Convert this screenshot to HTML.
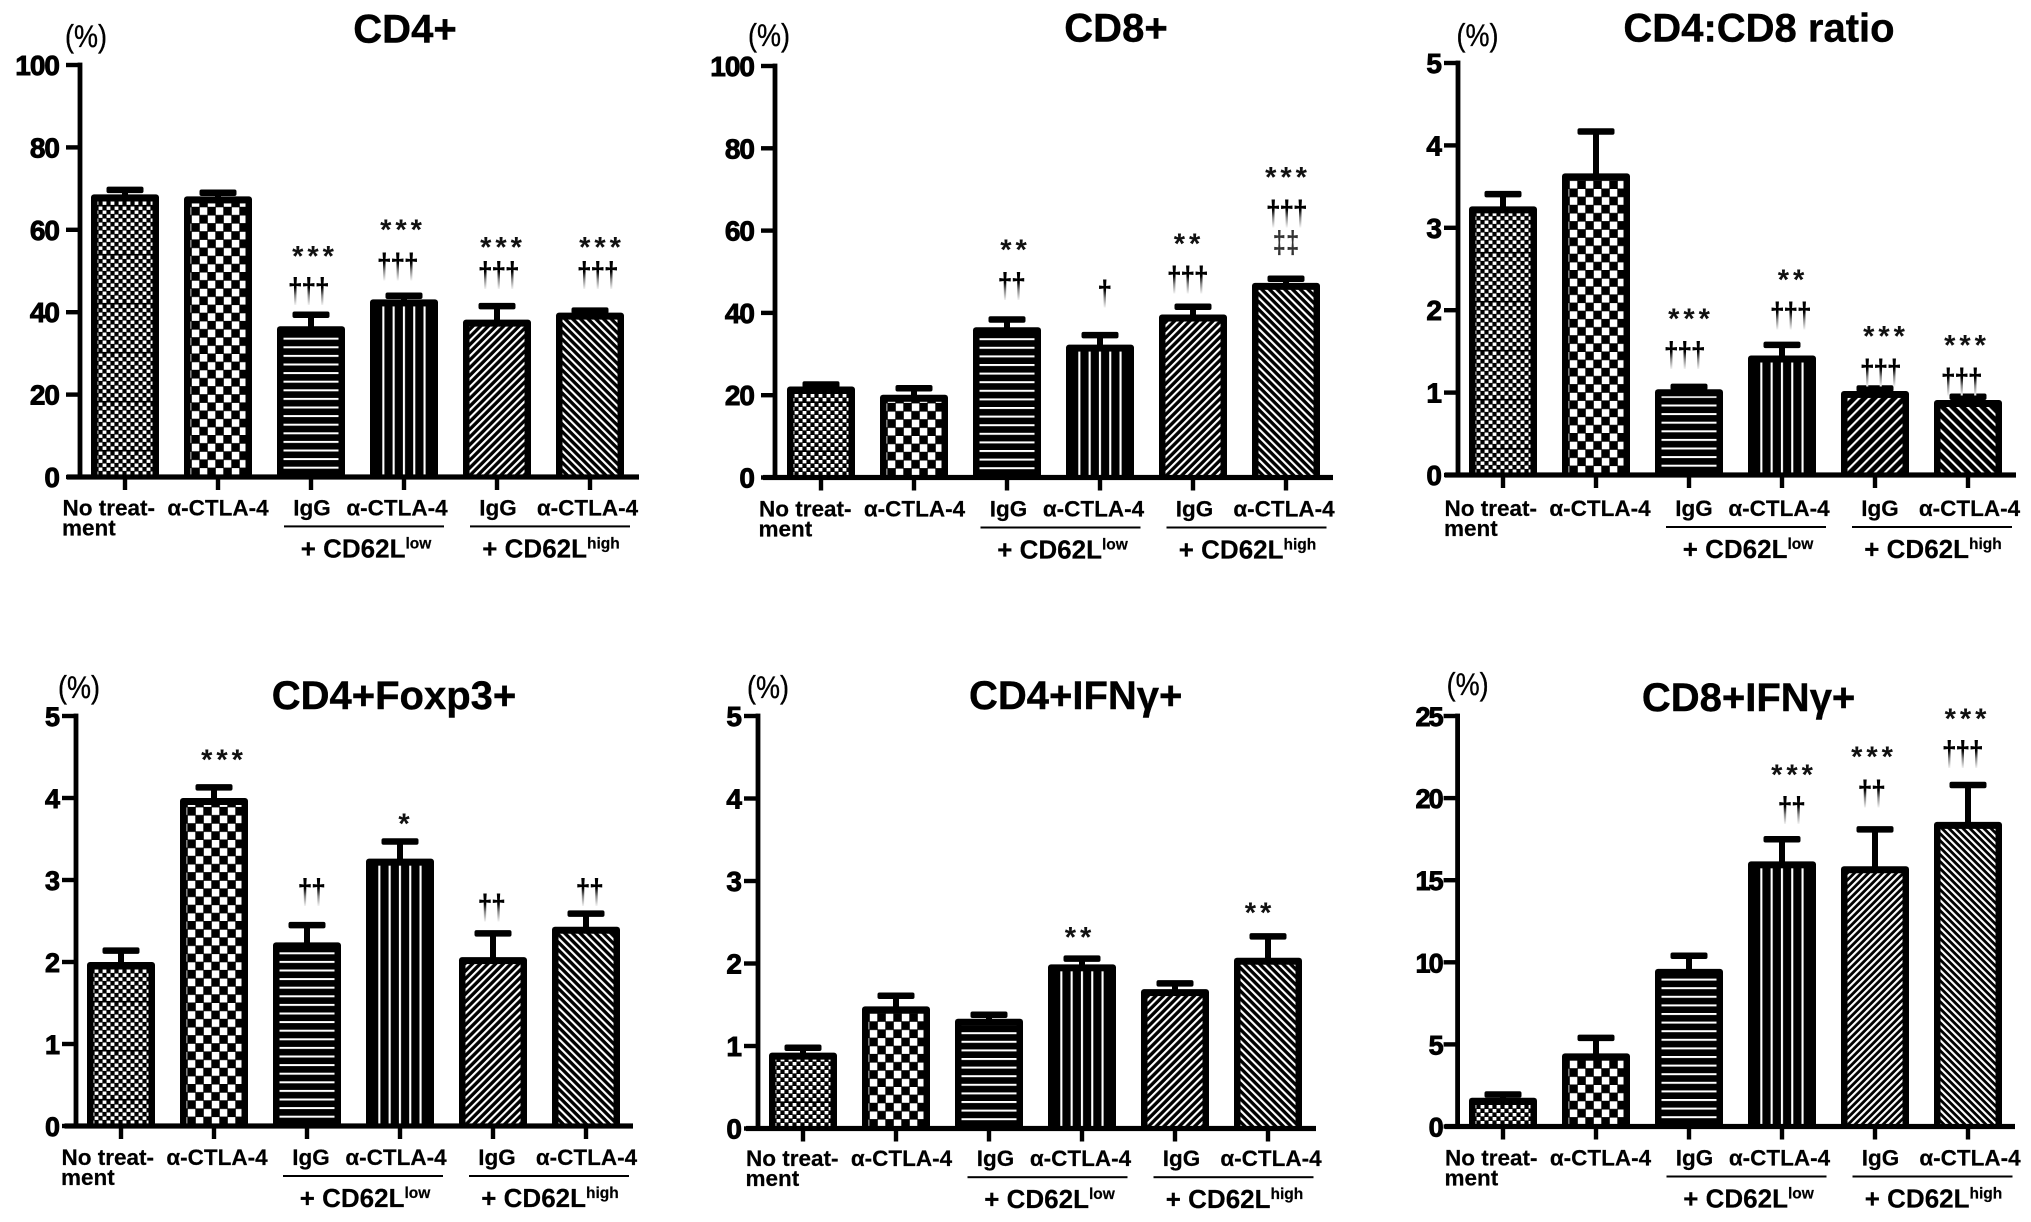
<!DOCTYPE html>
<html lang="en">
<head>
<meta charset="utf-8">
<title>T cell subset bar charts</title>
<style>
html,body{margin:0;padding:0;background:#fff;}
svg{display:block;font-family:"Liberation Sans",Arial,sans-serif;}
</style>
</head>
<body>
<svg id="figure" xmlns="http://www.w3.org/2000/svg" width="2031" height="1222" viewBox="0 0 2031 1222">
  <defs id="defs">
    <linearGradient id="fade" x1="0" y1="0" x2="0" y2="1">
      <stop offset="0" stop-color="#000"/>
      <stop offset="0.42" stop-color="#000"/>
      <stop offset="0.62" stop-color="#888"/>
      <stop offset="0.85" stop-color="#eee"/>
      <stop offset="1" stop-color="#fff"/>
    </linearGradient>
  </defs>
  <rect x="0" y="0" width="2031" height="1222" fill="#fff"/>
</svg>
<script>
// ---- shared category labels ----
const groupTop = ['No treat-', 'α-CTLA-4', 'IgG', 'α-CTLA-4', 'IgG', 'α-CTLA-4'];
const groupTopLine2 = 'ment';
const groupSub = [['+ CD62L', 'low'], ['+ CD62L', 'high']];
const barKinds = ['fine', 'coarse', 'hstripe', 'vstripe', 'fslash', 'bslash'];

// ---- CD4+ ----
const cd4Ticks = [0, 20, 40, 60, 80, 100];
const cd4Values = [68.6, 68.1, 36.6, 43.1, 38.2, 39.9];
const cd4Upper = [69.7, 69.0, 39.4, 44.0, 41.5, 40.4];
const cd4Stars = ['', '', '***', '***', '***', '***'];
const cd4StarLevels = [null, null, 54.3, 60.7, 56.4, 56.4];
const cd4Daggers = ['', '', '†††', '†††', '†††', '†††'];
const cd4DaggerLevels = [null, null, 46.4, 52.4, 50.3, 50.3];

// ---- CD8+ ----
const cd8Ticks = [0, 20, 40, 60, 80, 100];
const cd8Values = [22.1, 20.1, 36.5, 32.3, 39.6, 47.3];
const cd8Upper = [22.6, 21.7, 38.4, 34.6, 41.5, 48.3];
const cd8Stars = ['', '', '**', '', '**', '***'];
const cd8StarLevels = [null, null, 56, null, 57.5, 73.6];
const cd8Daggers = ['', '', '††', '†', '†††', '†††'];
const cd8DaggerLevels = [null, null, 47.8, 46, 49.4, 65.5];
const cd8DoubleDaggers = ['', '', '', '', '', '‡‡'];
const cd8DoubleDaggerLevels = [null, null, null, null, null, 57.5];

// ---- CD4:CD8 ratio ----
const ratioTicks = [0, 1, 2, 3, 4, 5];
const ratioValues = [3.26, 3.66, 1.04, 1.45, 1.02, 0.91];
const ratioUpper = [3.41, 4.17, 1.07, 1.58, 1.05, 0.95];
const ratioStars = ['', '', '***', '**', '***', '***'];
const ratioStarLevels = [null, null, 1.93, 2.4, 1.72, 1.61];
const ratioDaggers = ['', '', '†††', '†††', '†††', '†††'];
const ratioDaggerLevels = [null, null, 1.52, 2.0, 1.31, 1.2];

// ---- CD4+Foxp3+ ----
const foxp3Ticks = [0, 1, 2, 3, 4, 5];
const foxp3Values = [2.0, 4.0, 2.24, 3.26, 2.06, 2.43];
const foxp3Upper = [2.14, 4.13, 2.45, 3.47, 2.35, 2.59];
const foxp3Stars = ['', '***', '', '*', '', ''];
const foxp3StarLevels = [null, 4.5, null, 3.72, null, null];
const foxp3Daggers = ['', '', '††', '', '††', '††'];
const foxp3DaggerLevels = [null, null, 2.92, null, 2.73, 2.92];

// ---- CD4+IFNγ+ ----
const ifn4Ticks = [0, 1, 2, 3, 4, 5];
const ifn4Values = [0.92, 1.48, 1.33, 1.99, 1.69, 2.07];
const ifn4Upper = [0.98, 1.61, 1.38, 2.06, 1.76, 2.33];
const ifn4Stars = ['', '', '', '**', '', '**'];
const ifn4StarLevels = [null, null, null, 2.35, null, 2.65];

// ---- CD8+IFNγ+ ----
const ifn8Ticks = [0, 5, 10, 15, 20, 25];
const ifn8Values = [1.75, 4.45, 9.6, 16.15, 15.85, 18.55];
const ifn8Upper = [1.95, 5.4, 10.4, 17.5, 18.1, 20.8];
const ifn8Stars = ['', '', '', '***', '***', '***'];
const ifn8StarLevels = [null, null, null, 21.6, 22.7, 25];
const ifn8Daggers = ['', '', '', '††', '††', '†††'];
const ifn8DaggerLevels = [null, null, null, 19.6, 20.6, 23];

const NS = 'http://www.w3.org/2000/svg';
const figure = document.getElementById('figure');
const defs = document.getElementById('defs');
let patternCount = 0;

function make(tag, attrs, parent) {
  const node = document.createElementNS(NS, tag);
  Object.keys(attrs).forEach(function (k) { node.setAttribute(k, attrs[k]); });
  parent.appendChild(node);
  return node;
}

function makePattern(kind, barLeft, base, diag) {
  const id = 'pat' + (patternCount++);
  let w = 10, h = 10, transform = '';
  if (kind === 'fine') { w = 8; h = 49; transform = 'translate(' + (barLeft + 7.5) + ',' + (base - 26) + ')'; }
  if (kind === 'coarse') { w = 16; h = 16.3; transform = 'translate(' + (barLeft + 7.5) + ',' + (base - 1) + ')'; }
  if (kind === 'hstripe') { w = 10; h = 8.6; transform = 'translate(' + barLeft + ',' + (base - 10.3) + ')'; }
  if (kind === 'vstripe') { w = 10.3; h = 10; transform = 'translate(' + (barLeft + 12.3) + ',0)'; }
  if (kind === 'fslash') { w = diag * 0.7071; h = 20; transform = 'translate(' + barLeft + ',' + base + ') rotate(45)'; }
  if (kind === 'bslash') { w = diag * 0.7071; h = 20; transform = 'translate(' + barLeft + ',' + base + ') rotate(-45)'; }
  const p = make('pattern', { id: id, patternUnits: 'userSpaceOnUse', width: w, height: h, patternTransform: transform }, defs);
  make('rect', { x: 0, y: 0, width: w, height: h, fill: '#000' }, p);
  if (kind === 'fine') {
    for (let r = 0; r < 12; r++) {
      for (let c = 0; c < 2; c++) {
        if (c === r % 2) make('rect', { x: c * 4 + 0.1, y: r * 4 + 0.5, width: 3.8, height: 3.4, fill: '#fff' }, p);
      }
    }
  }
  if (kind === 'coarse') {
    make('rect', { x: 0.3, y: 0.3, width: 7.5, height: 7.6, fill: '#fff' }, p);
    make('rect', { x: 8.3, y: 8.4, width: 7.5, height: 7.6, fill: '#fff' }, p);
  }
  if (kind === 'hstripe') make('rect', { x: 0, y: 0, width: w, height: 2, fill: '#fff' }, p);
  if (kind === 'vstripe') make('rect', { x: 0, y: 0, width: 2.1, height: h, fill: '#fff' }, p);
  if (kind === 'fslash' || kind === 'bslash') make('rect', { x: 0, y: 0, width: 2.1, height: h, fill: '#fff' }, p);
  return 'url(#' + id + ')';
}

function drawPanel(name, title, titleAt, percentAt, layout, ticks, values, upper, marks) {
  const g = make('g', {}, figure);
  
  

  const yScale = function (v) {
    return layout.y0 - v / ticks[ticks.length - 1] * (layout.y0 - layout.yTop);
  };
  const xScale = function (i) {
    return layout.tick0 + i * layout.step;
  };

  // title and unit
  const titleEl = make('text', { x: titleAt[0], y: titleAt[1], 'text-anchor': 'middle', 'font-size': 40, 'font-weight': 'bold', stroke: '#000', 'stroke-width': 0.4, fill: '#000' }, g);
  
  
  titleEl.textContent = title;

  const unitEl = make('text', { transform: 'translate(' + percentAt[0] + ',' + percentAt[1] + ') scale(1,1.15)', 'text-anchor': 'middle', 'font-size': 27, stroke: '#000', 'stroke-width': 0.3, fill: '#000' }, g);
  
  
  unitEl.textContent = '(%)';

  // y axis line
  const yAxis = make('rect', { x: layout.axisX - 2.4, y: layout.yTop - 2.4, width: 4.8, height: layout.y0 - layout.yTop + 4.8, fill: '#000' }, g);
  
  

  // y ticks and labels
  ticks.forEach(function (t) {
    const tickMark = make('rect', { x: layout.axisX - 14, y: yScale(t) - 2.2, width: 14, height: 4.4, fill: '#000' }, g);
    
    
    const label = make('text', { x: layout.axisX - layout.tickGap, y: yScale(t) + 10, 'text-anchor': 'end', 'font-size': layout.tickSize, 'font-weight': 'bold', 'letter-spacing': layout.tickSpacing, stroke: '#000', 'stroke-width': 0.9, fill: '#000' }, g);
    
    
    label.textContent = String(t);
  });

  // bars, error bars
  values.forEach(function (v, i) {
    const left = xScale(i) - 34;
    const kind = barKinds[i];

    const stem = make('rect', { x: xScale(i) - 3, y: yScale(upper[i]), width: 6, height: Math.max(0, yScale(v) - yScale(upper[i])) + 2, fill: '#000' }, g);
    
    

    const cap = make('rect', { x: xScale(i) - 18.5, y: yScale(upper[i]) - 3.2, width: 37, height: 6.5, rx: 2, fill: '#000' }, g);
    
    

    const bar = make('rect', { x: left, y: yScale(v), width: 68, height: layout.y0 - yScale(v), rx: 3, fill: '#000' }, g);
    
    

    const innerTop = yScale(v) + 7;
    const inner = make('rect', { x: left + 6.5, y: innerTop, width: 55, height: Math.max(0, layout.y0 - innerTop), fill: makePattern(kind, left, layout.y0, layout.diag) }, g);
    
    
  });

  // x axis line and ticks
  const xAxis = make('rect', { x: layout.xStart, y: layout.y0 - 2.6, width: layout.xEnd - layout.xStart, height: 5.2, fill: '#000' }, g);
  
  

  values.forEach(function (v, i) {
    const xt = make('rect', { x: xScale(i) - 2.2, y: layout.y0, width: 4.4, height: 13, fill: '#000' }, g);
    
    
  });

  // x labels
  const s = layout.shift;
  const dy = layout.labelDy;
  const labelOffsets = [null, 95, 189, 274, 375, 464.5];
  groupTop.forEach(function (txt, i) {
    const attrs = i === 0
      ? { x: layout.tick0 - 60.5 + s, y: layout.y0 + 40 + dy, 'text-anchor': 'start', 'font-size': 22.5, 'font-weight': 'bold', stroke: '#000', 'stroke-width': 0.2, fill: '#000' }
      : { x: layout.tick0 + labelOffsets[i] + s, y: layout.y0 + 40 + dy, 'text-anchor': 'middle', 'font-size': 22.5, 'font-weight': 'bold', stroke: '#000', 'stroke-width': 0.2, fill: '#000' };
    const lab = make('text', attrs, g);
    
    
    lab.textContent = txt;
  });
  const line2 = make('text', { x: layout.tick0 - 61 + s, y: layout.y0 + 60 + dy, 'font-size': 22.5, 'font-weight': 'bold', stroke: '#000', 'stroke-width': 0.2, fill: '#000' }, g);
  
  
  line2.textContent = groupTopLine2;

  // group rules and group labels
  const ruleStarts = [161, 347];
  const subCenters = [243, 428];
  groupSub.forEach(function (sub, k) {
    const rule = make('rect', { x: layout.tick0 + ruleStarts[k] + s, y: layout.y0 + 50 + dy, width: 160, height: 2, fill: '#000' }, g);
    
    

    const subText = make('text', { x: layout.tick0 + subCenters[k] + s, y: layout.y0 + 82 + dy, 'text-anchor': 'middle', 'font-size': 26, 'font-weight': 'bold', stroke: '#000', 'stroke-width': 0.2, fill: '#000' }, g);
    
    
    subText.appendChild(document.createTextNode(sub[0]));
    const sup = make('tspan', { dy: -9, 'font-size': 15.5 }, subText);
    sup.textContent = sub[1];
  });

  // significance marks
  marks.stars.forEach(function (txt, i) {
    if (!txt) return;
    const star = make('text', { x: xScale(i) + marks.starNudge[i] + 2, y: yScale(marks.starLevels[i]) + 12.5, 'text-anchor': 'middle', 'font-size': 29, 'font-weight': 'bold', 'letter-spacing': 4, fill: '#111' }, g);
    
    
    star.textContent = txt;
  });
  (marks.daggers || []).forEach(function (txt, i) {
    if (!txt) return;
    const dag = make('text', { transform: 'translate(' + (xScale(i) + marks.daggerNudge[i]) + ',' + (yScale(marks.daggerLevels[i]) + 16.8) + ') scale(1,1.3)', 'text-anchor': 'middle', 'font-size': 27, 'font-weight': 'bold', 'letter-spacing': -1.5, fill: 'url(#fade)' }, g);
    
    
    dag.textContent = txt;
  });
  (marks.doubles || []).forEach(function (txt, i) {
    if (!txt) return;
    const dbl = make('text', { transform: 'translate(' + (xScale(i) + marks.daggerNudge[i]) + ',' + (yScale(marks.doubleLevels[i]) + 12) + ') scale(1,1.3)', 'text-anchor': 'middle', 'font-size': 24, 'font-weight': 'bold', fill: '#333' }, g);
    
    
    dbl.textContent = txt;
  });
}

drawPanel('cd4', 'CD4+', [405, 42.5], [86, 47],
  { axisX: 80, y0: 477, yTop: 65, xStart: 67, xEnd: 639, tick0: 125, step: 93, shift: -2, labelDy: -1.6, tickGap: 21, tickSize: 28, tickSpacing: -1, diag: 7.7 },
  cd4Ticks, cd4Values, cd4Upper,
  { stars: cd4Stars, starLevels: cd4StarLevels, starNudge: [0, 0, 2, -3, 4, 10],
    daggers: cd4Daggers, daggerLevels: cd4DaggerLevels, daggerNudge: [0, 0, -3, -7, 1, 7] });

drawPanel('cd8', 'CD8+', [1116, 41.5], [769, 46],
  { axisX: 775, y0: 477.5, yTop: 66, xStart: 763, xEnd: 1333, tick0: 821, step: 93, shift: -1.5, labelDy: -1, tickGap: 21, tickSize: 28, tickSpacing: -1, diag: 7.7 },
  cd8Ticks, cd8Values, cd8Upper,
  { stars: cd8Stars, starLevels: cd8StarLevels, starNudge: [0, 0, 6.5, 0, -6, 0],
    daggers: cd8Daggers, daggerLevels: cd8DaggerLevels, daggerNudge: [0, 0, 4, 4, -6, 0],
    doubles: cd8DoubleDaggers, doubleLevels: cd8DoubleDaggerLevels });

drawPanel('cd4-cd8-ratio', 'CD4:CD8 ratio', [1759, 41.5], [1477.5, 46],
  { axisX: 1458, y0: 475, yTop: 63, xStart: 1445, xEnd: 2016, tick0: 1503, step: 93, shift: 2, labelDy: 1, tickGap: 16, tickSize: 28, tickSpacing: 0, diag: 10 },
  ratioTicks, ratioValues, ratioUpper,
  { stars: ratioStars, starLevels: ratioStarLevels, starNudge: [0, 0, 0, 9, 9, -3],
    daggers: ratioDaggers, daggerLevels: ratioDaggerLevels, daggerNudge: [0, 0, -5, 8, 5, -7] });

drawPanel('cd4-foxp3', 'CD4+Foxp3+', [394, 709], [79, 698],
  { axisX: 76, y0: 1126, yTop: 716, xStart: 64.5, xEnd: 633, tick0: 121, step: 93, shift: 1, labelDy: -1, tickGap: 16, tickSize: 27, tickSpacing: 0, diag: 7.7 },
  foxp3Ticks, foxp3Values, foxp3Upper,
  { stars: foxp3Stars, starLevels: foxp3StarLevels, starNudge: [0, 8, 0, 4, 0, 0],
    daggers: foxp3Daggers, daggerLevels: foxp3DaggerLevels, daggerNudge: [0, 0, 4, 0, -2, 3] });

drawPanel('cd4-ifng', 'CD4+IFNγ+', [1075.7, 709], [768, 698],
  { axisX: 758, y0: 1128.5, yTop: 716, xStart: 746, xEnd: 1316, tick0: 803, step: 93, shift: 3.5, labelDy: -2.3, tickGap: 16, tickSize: 28, tickSpacing: 0, diag: 7.7 },
  ifn4Ticks, ifn4Values, ifn4Upper,
  { stars: ifn4Stars, starLevels: ifn4StarLevels, starNudge: [0, 0, 0, -4, 0, -10],
    daggers: [], daggerLevels: [], daggerNudge: [] });

drawPanel('cd8-ifng', 'CD8+IFNγ+', [1748.6, 711], [1467.6, 695],
  { axisX: 1457.6, y0: 1126.5, yTop: 716, xStart: 1445, xEnd: 2015, tick0: 1503, step: 93, shift: 2.5, labelDy: -1, tickGap: 16, tickSize: 27, tickSpacing: -2, diag: 7 },
  ifn8Ticks, ifn8Values, ifn8Upper,
  { stars: ifn8Stars, starLevels: ifn8StarLevels, starNudge: [0, 0, 0, 10, -3, -2.5],
    daggers: ifn8Daggers, daggerLevels: ifn8DaggerLevels, daggerNudge: [0, 0, 0, 9, -4, -6] });
</script>
</body>
</html>
